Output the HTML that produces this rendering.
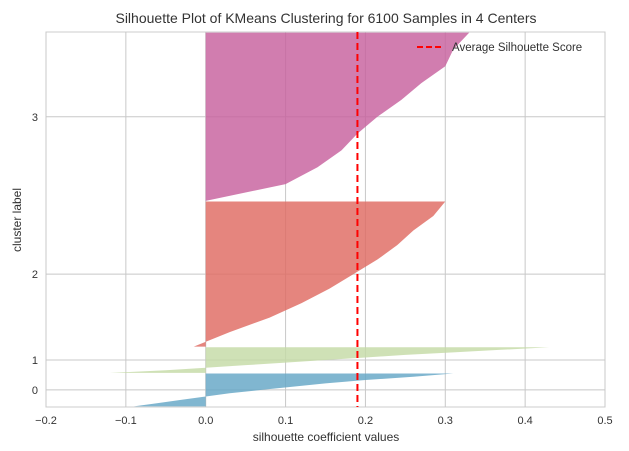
<!DOCTYPE html>
<html><head><meta charset="utf-8"><style>
body{margin:0;background:#fff}
svg text{font-family:"Liberation Sans",sans-serif;fill:#333}
</style></head><body>
<svg id="c" width="629" height="446">
<text x="326" y="23" text-anchor="middle" font-size="14">Silhouette Plot of KMeans Clustering for 6100 Samples in 4 Centers</text>
<rect x="46" y="32" width="559" height="375" fill="#fff" stroke="#ccc"/>
<g id="grid"></g><g id="marks"></g><g id="ticks"></g>
<text x="326" y="441" text-anchor="middle" font-size="12">silhouette coefficient values</text>
<text transform="translate(21,220) rotate(-90)" text-anchor="middle" font-size="12">cluster label</text>
<g>
<line x1="417" y1="47" x2="442" y2="47" stroke="#f00" stroke-width="2" stroke-dasharray="6,3"/>
<text x="452" y="51" font-size="11.5">Average Silhouette Score</text>
</g>
</svg>
<script>
const xTicks=[-0.2,-0.1,0.0,0.1,0.2,0.3,0.4,0.5];
const xTickLabels=["−0.2","−0.1","0.0","0.1","0.2","0.3","0.4","0.5"];
const clusterLabels=["0","1","2","3"];
const clusterSizes=[540,420,2380,2760];
const cluster0=[-0.09,-0.06,-0.03,0.0,0.03,0.07,0.11,0.15,0.2,0.26,0.31];
const cluster1=[-0.12,-0.05,0.0,0.05,0.1,0.15,0.2,0.25,0.31,0.37,0.43];
const cluster2=[-0.015,0.03,0.08,0.12,0.155,0.185,0.215,0.24,0.26,0.285,0.30];
const cluster3=[0.0,0.1,0.14,0.17,0.19,0.215,0.245,0.27,0.30,0.31,0.33];
const avgScore=0.19;
const colors=["#64a6c6","#c4dba6","#df6a62","#c7609d"];
const ns="http://www.w3.org/2000/svg";
const X0=46,X1=605,Y0=32,Y1=407;
const totalY=10+clusterSizes.reduce((a,b)=>a+b,0)+10*(clusterSizes.length);
const sx=v=>X0+(v-xTicks[0])/(xTicks[xTicks.length-1]-xTicks[0])*(X1-X0);
const sy=v=>Y1-v/totalY*(Y1-Y0);
function mk(t,a,p){const e=document.createElementNS(ns,t);for(const k in a)e.setAttribute(k,a[k]);p.appendChild(e);return e;}
const grid=document.getElementById('grid'),marks=document.getElementById('marks'),ticks=document.getElementById('ticks');
xTicks.forEach((t,i)=>{
  const l=mk('line',{x1:sx(t),x2:sx(t),y1:Y0,y2:Y1,stroke:'#c8c8c8'},grid);
  
  
  const tx=mk('text',{x:sx(t),y:Y1+17,'text-anchor':'middle','font-size':11},ticks);
  tx.textContent=xTickLabels[i];
  
  
});
const data=[cluster0,cluster1,cluster2,cluster3];
let yl=10;
data.forEach((vals,ci)=>{
  const n=clusterSizes[ci];
  const yc=sy(yl+n/2);
  const gl=mk('line',{x1:X0,x2:X1,y1:yc,y2:yc,stroke:'#c8c8c8'},grid);
  
  
  const tx=mk('text',{x:X0-8,y:yc+4,'text-anchor':'end','font-size':11},ticks);
  tx.textContent=clusterLabels[ci];
  
  
  let pts=[[sx(0),sy(yl)]];
  vals.forEach((v,i)=>{pts.push([sx(v),sy(yl+n*i/(vals.length-1))]);});
  pts.push([sx(0),sy(yl+n)]);
  const p=mk('polygon',{points:pts.map(q=>q.join(',')).join(' '),fill:colors[ci],'fill-opacity':0.82},marks);
  
  
  yl+=n+10;
});
const al=mk('line',{x1:sx(avgScore),x2:sx(avgScore),y1:Y0,y2:Y1,stroke:'#f00','stroke-width':2,'stroke-dasharray':'7,4'},marks);


</script>
</body></html>
